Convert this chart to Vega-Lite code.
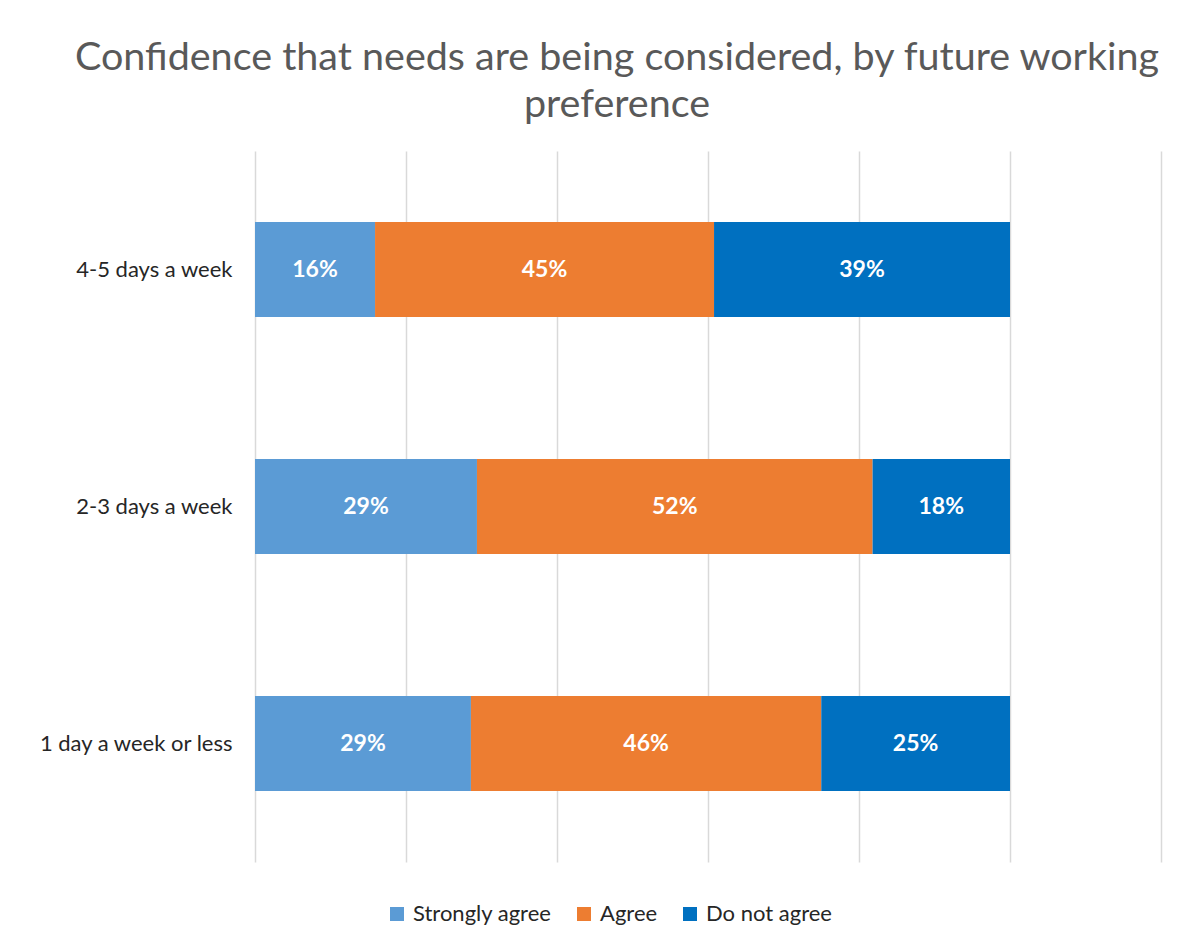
{
  "$schema": "https://vega.github.io/schema/vega-lite/v6.json",
  "autosize": "none",
  "width": 906,
  "height": 711,
  "padding": {"left": 255, "top": 151, "right": 34, "bottom": 88},
  "background": "white",
  "title": {
    "text": ["Confidence that needs are being considered, by future working", "preference"],
    "font": "Lato",
    "fontSize": 39.5,
    "fontWeight": "normal",
    "color": "#595959",
    "lineHeight": 47,
    "anchor": "middle",
    "dx": -91,
    "offset": 26
  },
  "data": {
    "values": [
      {"cat": "4-5 days a week", "resp": "Strongly agree", "ord": 1, "value": 0.159},
      {"cat": "4-5 days a week", "resp": "Agree", "ord": 2, "value": 0.449},
      {"cat": "4-5 days a week", "resp": "Do not agree", "ord": 3, "value": 0.392},
      {"cat": "2-3 days a week", "resp": "Strongly agree", "ord": 1, "value": 0.294},
      {"cat": "2-3 days a week", "resp": "Agree", "ord": 2, "value": 0.524},
      {"cat": "2-3 days a week", "resp": "Do not agree", "ord": 3, "value": 0.182},
      {"cat": "1 day a week or less", "resp": "Strongly agree", "ord": 1, "value": 0.286},
      {"cat": "1 day a week or less", "resp": "Agree", "ord": 2, "value": 0.464},
      {"cat": "1 day a week or less", "resp": "Do not agree", "ord": 3, "value": 0.25}
    ]
  },
  "transform": [
    {"stack": "value", "groupby": ["cat"], "sort": [{"field": "ord"}], "as": ["v0", "v1"]},
    {"calculate": "(datum.v0 + datum.v1) / 2", "as": "mid"}
  ],
  "encoding": {
    "y": {
      "field": "cat",
      "type": "nominal",
      "sort": ["4-5 days a week", "2-3 days a week", "1 day a week or less"],
      "title": null,
      "scale": {"paddingInner": 0.6, "paddingOuter": 0.3},
      "axis": {
        "domain": false,
        "ticks": false,
        "labelFont": "Lato",
        "labelFontSize": 22,
        "labelColor": "#262626",
        "labelPadding": 23,
        "labelLimit": 400
      }
    }
  },
  "layer": [
    {
      "mark": {"type": "bar"},
      "encoding": {
        "x": {
          "field": "v0",
          "type": "quantitative",
          "scale": {"domain": [0, 1.2], "nice": false},
          "title": null,
          "axis": {
            "values": [0, 0.2, 0.4, 0.6, 0.8, 1.0, 1.2],
            "labels": false,
            "ticks": false,
            "domain": false,
            "grid": true,
            "gridColor": "#D9D9D9",
            "gridWidth": 1.5
          }
        },
        "x2": {"field": "v1"},
        "color": {
          "field": "resp",
          "type": "nominal",
          "sort": ["Strongly agree", "Agree", "Do not agree"],
          "scale": {
            "domain": ["Strongly agree", "Agree", "Do not agree"],
            "range": ["#5B9BD5", "#ED7D31", "#0070C0"]
          },
          "legend": {
            "title": null,
            "orient": "none",
            "direction": "horizontal",
            "legendX": 131,
            "legendY": 752,
            "symbolType": "square",
            "symbolSize": 196,
            "symbolStrokeWidth": 0,
            "symbolOpacity": 1,
            "labelFont": "Lato",
            "labelFontSize": 22,
            "labelColor": "#262626",
            "columnPadding": 21,
            "labelOffset": 5
          }
        },
        "order": {"field": "ord"}
      }
    },
    {
      "mark": {"type": "text", "color": "white", "font": "Lato", "fontWeight": "bold", "fontSize": 23, "align": "center", "baseline": "middle"},
      "encoding": {
        "x": {"field": "mid", "type": "quantitative"},
        "text": {"field": "value", "type": "quantitative", "format": ".0%"}
      }
    }
  ],
  "config": {
    "view": {"stroke": null}
  }
}
